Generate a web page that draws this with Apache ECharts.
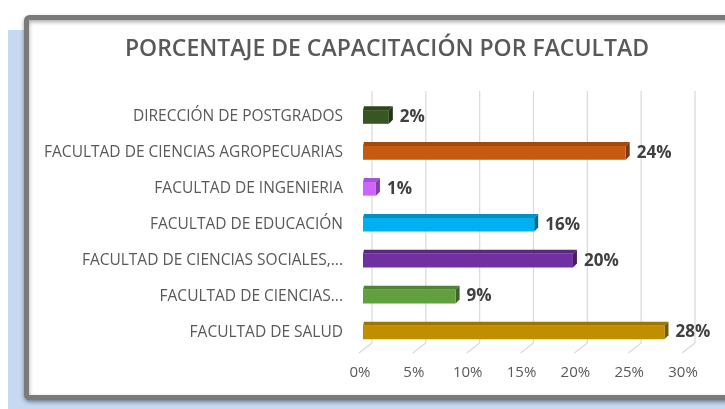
<!DOCTYPE html>
<html>
<head>
<meta charset="utf-8">
<script src="https://cdn.jsdelivr.net/npm/echarts@6/dist/echarts.min.js"></script>
<style>
  html, body { margin: 0; padding: 0; background: #fff; }
  #container0 { width: 725px; height: 409px; }
</style>
</head>
<body>
<div id="container0"></div>
<script>
// categorias (de arriba a abajo)
var categories = [
    'DIRECCIÓN DE POSTGRADOS',
    'FACULTAD DE CIENCIAS AGROPECUARIAS',
    'FACULTAD DE INGENIERIA',
    'FACULTAD DE EDUCACIÓN',
    'FACULTAD DE CIENCIAS SOCIALES,...',
    'FACULTAD DE CIENCIAS...',
    'FACULTAD DE SALUD'
];
// porcentajes
var values = [2.4, 24.4, 1.2, 15.9, 19.5, 8.6, 28.0];
var barColors = ['#375623', '#c55a11', '#cc66ff', '#00b0f0', '#7030a0', '#62a03f', '#bf8f00'];
var xTicks = [0, 5, 10, 15, 20, 25, 30];

var FONT = '"Open Sans"';

function shade(hex, f) {
    var n = parseInt(hex.slice(1), 16);
    var r = Math.round(((n >> 16) & 255) * f);
    var g = Math.round(((n >> 8) & 255) * f);
    var b = Math.round((n & 255) * f);
    return 'rgb(' + r + ',' + g + ',' + b + ')';
}

var barData = values.map(function (v, i) { return [i, v]; });
var tickData = xTicks.map(function (t) { return [0, t]; });

var opt_chart_0 = {
    animation: false,
    title: {
        text: 'PORCENTAJE DE CAPACITACIÓN POR FACULTAD',
        left: 382,
        top: 33,
        textAlign: 'center',
        textStyle: {
            fontFamily: 'Open Sans',
            fontSize: 23,
            fontWeight: 600,
            color: '#595959'
        }
    },
    graphic: [
        {
            type: 'rect', z: -20, silent: true,
            shape: { x: 8, y: 30, width: 717, height: 379 },
            style: { fill: '#c6d9f1' }
        },
        {
            type: 'rect', z: -19, silent: true,
            shape: { x: 26.5, y: 17.5, width: 710, height: 380, r: 3 },
            style: {
                fill: '#ffffff', stroke: '#7a7a7a', lineWidth: 5,
                shadowBlur: 4, shadowColor: 'rgba(0,0,0,0.35)', shadowOffsetY: 2
            }
        }
    ],
    grid: {
        left: 363,
        right: 39,
        top: 99,
        bottom: 58.5
    },
    xAxis: {
        type: 'value',
        min: 0,
        max: 30,
        interval: 5,
        axisLine: { show: false },
        axisTick: { show: false },
        splitLine: { show: false },
        axisLabel: {
            margin: 15,
            padding: [0, 6, 0, 0],
            color: '#595959',
            fontFamily: 'Open Sans',
            fontSize: 15,
            formatter: '{value}%'
        }
    },
    yAxis: {
        type: 'category',
        inverse: true,
        data: categories,
        axisLine: { show: false },
        axisTick: { show: false },
        axisLabel: {
            margin: 20,
            color: '#595959',
            fontFamily: 'Open Sans',
            fontSize: 15.5
        }
    },
    series: [
        {
            // pared del fondo y piso
            name: 'grid3d',
            type: 'custom',
            clip: false,
            silent: true,
            z: 1,
            encode: { x: 1, y: 0 },
            data: tickData,
            renderItem: function (params, api) {
                var p = api.coord([api.value(1), 0]);
                var cs = params.coordSys;
                var bx = p[0] + 9;
                var top = cs.y - 8;
                var bot = cs.y + cs.height - 7.5;
                return {
                    type: 'group',
                    children: [
                        { type: 'line', shape: { x1: bx, y1: top, x2: bx, y2: bot },
                          style: { stroke: '#d9d9d9', lineWidth: 1.2 } },
                        { type: 'line', shape: { x1: bx, y1: bot, x2: p[0] - 4, y2: bot + 10 },
                          style: { stroke: '#d9d9d9', lineWidth: 1.2 } }
                    ]
                };
            }
        },
        {
            name: 'Porcentaje',
            type: 'custom',
            clip: false,
            z: 3,
            encode: { x: 1, y: 0 },
            data: barData,
            renderItem: function (params, api) {
                var idx = api.value(0);
                var val = api.value(1);
                var s = api.coord([0, idx]);
                var e = api.coord([val, idx]);
                var h = api.size([0, 1])[1] * 0.38;
                var d = 4;
                var x0 = s[0], x1 = e[0];
                var yT = e[1] - h / 2, yB = e[1] + h / 2;
                var c = barColors[idx];
                return {
                    type: 'group',
                    children: [
                        { type: 'polygon', shape: { points: [[x0, yT], [x1, yT], [x1 + d, yT - d], [x0 + 1, yT - d]] },
                          style: { fill: shade(c, 0.82) } },
                        { type: 'polygon', shape: { points: [[x1, yT], [x1 + d, yT - d], [x1 + d, yB - d], [x1, yB]] },
                          style: { fill: shade(c, 0.62) } },
                        { type: 'rect', shape: { x: x0, y: yT, width: x1 - x0, height: h },
                          style: { fill: c } },
                        { type: 'text', x: x1 + d + 7, y: e[1],
                          style: {
                              text: Math.round(val) + '%',
                              fill: '#404040',
                              font: 'bold 17px ' + FONT,
                              verticalAlign: 'middle'
                          } }
                    ]
                };
            }
        }
    ]
};

var chart_0 = echarts.init(document.getElementById('container0'));
chart_0.setOption(opt_chart_0);
</script>
</body>
</html>
